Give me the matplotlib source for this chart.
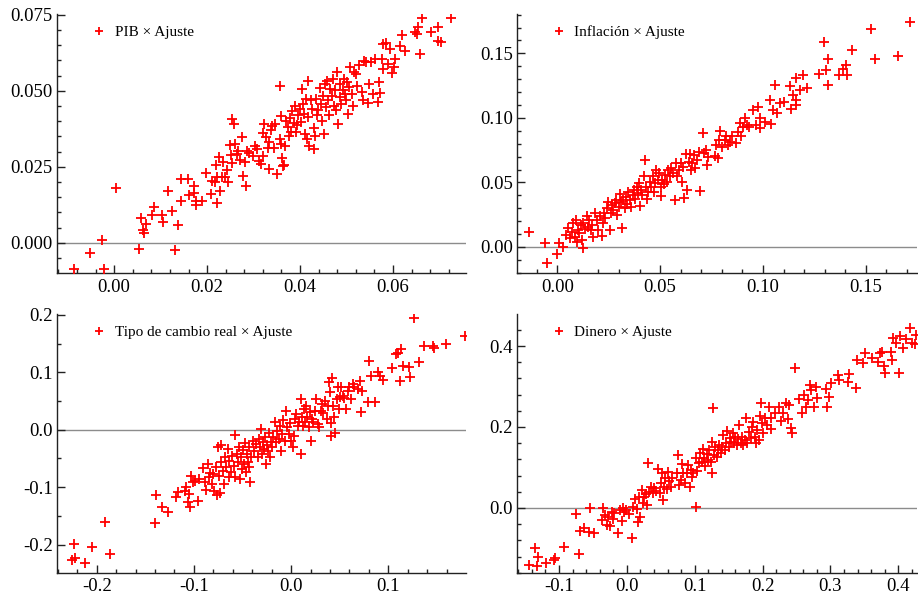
import numpy as np
import matplotlib
matplotlib.use("Agg")
import matplotlib.pyplot as plt
from matplotlib.ticker import MultipleLocator, FormatStrFormatter

plt.rcParams['font.family'] = ['Liberation Serif', 'DejaVu Serif']
plt.rcParams['axes.unicode_minus'] = False

# PIB: actual vs fitted
pib_x = [-0.0086, -0.0052, -0.0027, -0.0021, 0.0003, 0.0054, 0.0057, 0.0063, 0.0065, 0.0068,
         0.0081, 0.0085, 0.0103, 0.0104, 0.0116, 0.0125, 0.0130, 0.0137, 0.0143, 0.0143,
         0.0158, 0.0160, 0.0171, 0.0172, 0.0176, 0.0176, 0.0188, 0.0198, 0.0209, 0.0211,
         0.0217, 0.0219, 0.0222, 0.0222, 0.0225, 0.0228, 0.0232, 0.0235, 0.0239, 0.0243,
         0.0246, 0.0249, 0.0252, 0.0254, 0.0257, 0.0254, 0.0260, 0.0264, 0.0267, 0.0271,
         0.0275, 0.0277, 0.0282, 0.0283, 0.0285, 0.0291, 0.0298, 0.0302, 0.0307, 0.0311,
         0.0316, 0.0320, 0.0321, 0.0323, 0.0326, 0.0331, 0.0333, 0.0334, 0.0338, 0.0340,
         0.0344, 0.0347, 0.0351, 0.0356, 0.0357, 0.0358, 0.0360, 0.0361, 0.0363, 0.0366,
         0.0368, 0.0370, 0.0373, 0.0376, 0.0378, 0.0381, 0.0383, 0.0386, 0.0389, 0.0391,
         0.0394, 0.0396, 0.0399, 0.0402, 0.0404, 0.0406, 0.0408, 0.0411, 0.0413, 0.0414,
         0.0416, 0.0418, 0.0420, 0.0423, 0.0425, 0.0429, 0.0431, 0.0432, 0.0434, 0.0436,
         0.0438, 0.0442, 0.0444, 0.0447, 0.0449, 0.0452, 0.0454, 0.0456, 0.0458, 0.0461,
         0.0463, 0.0465, 0.0468, 0.0470, 0.0473, 0.0475, 0.0477, 0.0480, 0.0482, 0.0485,
         0.0486, 0.0489, 0.0492, 0.0494, 0.0497, 0.0499, 0.0501, 0.0504, 0.0506, 0.0508,
         0.0511, 0.0513, 0.0516, 0.0520, 0.0523, 0.0527, 0.0533, 0.0536, 0.0538, 0.0542,
         0.0546, 0.0549, 0.0552, 0.0556, 0.0561, 0.0567, 0.0570, 0.0572, 0.0576, 0.0579,
         0.0578, 0.0585, 0.0589, 0.0594, 0.0598, 0.0602, 0.0604, 0.0615, 0.0619, 0.0626,
         0.0647, 0.0651, 0.0654, 0.0659, 0.0663, 0.0682, 0.0696, 0.0696, 0.0704, 0.0724]
pib_y = [-0.0087, -0.0033, 0.0009, -0.0087, 0.0180, -0.0021, 0.0083, 0.0042, 0.0034, 0.0063,
         0.0093, 0.0118, 0.0093, 0.0068, 0.0171, 0.0105, -0.0022, 0.0058, 0.0209, 0.0136,
         0.0209, 0.0156, 0.0186, 0.0164, 0.0136, 0.0125, 0.0136, 0.0231, 0.0162, 0.0204,
         0.0200, 0.0255, 0.0130, 0.0216, 0.0281, 0.0172, 0.0216, 0.0267, 0.0216, 0.0238,
         0.0200, 0.0322, 0.0290, 0.0406, 0.0389, 0.0262, 0.0324, 0.0293, 0.0301, 0.0273,
         0.0348, 0.0220, 0.0265, 0.0186, 0.0301, 0.0295, 0.0287, 0.0318, 0.0307, 0.0269,
         0.0260, 0.0284, 0.0361, 0.0391, 0.0347, 0.0312, 0.0333, 0.0242, 0.0370, 0.0384,
         0.0313, 0.0391, 0.0226, 0.0514, 0.0342, 0.0416, 0.0326, 0.0278, 0.0251, 0.0255,
         0.0318, 0.0400, 0.0380, 0.0350, 0.0411, 0.0364, 0.0433, 0.0394, 0.0450, 0.0364,
         0.0386, 0.0419, 0.0441, 0.0397, 0.0506, 0.0457, 0.0424, 0.0359, 0.0473, 0.0342,
         0.0533, 0.0413, 0.0318, 0.0468, 0.0441, 0.0309, 0.0378, 0.0350, 0.0472, 0.0419,
         0.0435, 0.0509, 0.0457, 0.0402, 0.0484, 0.0359, 0.0523, 0.0446, 0.0533, 0.0468,
         0.0419, 0.0506, 0.0484, 0.0539, 0.0451, 0.0501, 0.0435, 0.0561, 0.0389, 0.0479,
         0.0523, 0.0457, 0.0501, 0.0539, 0.0490, 0.0468, 0.0528, 0.0424, 0.0512, 0.0577,
         0.0490, 0.0451, 0.0561, 0.0555, 0.0517, 0.0583, 0.0495, 0.0470, 0.0599, 0.0594,
         0.0459, 0.0523, 0.0594, 0.0488, 0.0605, 0.0462, 0.0528, 0.0492, 0.0605, 0.0572,
         0.0654, 0.0656, 0.0588, 0.0637, 0.0557, 0.0579, 0.0605, 0.0648, 0.0682, 0.0632,
         0.0694, 0.0686, 0.0711, 0.0621, 0.0739, 0.0692, 0.0708, 0.0662, 0.0659, 0.0739]

# Inflacion: actual vs fitted
inf_x = [-0.0136, -0.0060, -0.0049, -0.0003, 0.0010, 0.0029, 0.0042, 0.0053, 0.0061, 0.0070,
         0.0078, 0.0086, 0.0091, 0.0094, 0.0102, 0.0107, 0.0113, 0.0118, 0.0123, 0.0126,
         0.0134, 0.0142, 0.0147, 0.0155, 0.0162, 0.0168, 0.0175, 0.0183, 0.0191, 0.0199,
         0.0207, 0.0215, 0.0220, 0.0227, 0.0233, 0.0240, 0.0248, 0.0256, 0.0259, 0.0265,
         0.0272, 0.0278, 0.0285, 0.0291, 0.0298, 0.0304, 0.0311, 0.0316, 0.0320, 0.0327,
         0.0333, 0.0340, 0.0346, 0.0353, 0.0359, 0.0366, 0.0372, 0.0379, 0.0385, 0.0392,
         0.0398, 0.0401, 0.0408, 0.0414, 0.0421, 0.0427, 0.0430, 0.0437, 0.0443, 0.0450,
         0.0456, 0.0463, 0.0469, 0.0476, 0.0482, 0.0489, 0.0495, 0.0502, 0.0505, 0.0511,
         0.0518, 0.0524, 0.0531, 0.0539, 0.0547, 0.0555, 0.0563, 0.0571, 0.0576, 0.0583,
         0.0592, 0.0599, 0.0605, 0.0612, 0.0618, 0.0625, 0.0631, 0.0638, 0.0644, 0.0650,
         0.0657, 0.0663, 0.0670, 0.0680, 0.0689, 0.0696, 0.0706, 0.0712, 0.0722, 0.0728,
         0.0733, 0.0765, 0.0773, 0.0782, 0.0786, 0.0793, 0.0803, 0.0814, 0.0822, 0.0830,
         0.0841, 0.0851, 0.0867, 0.0879, 0.0887, 0.0895, 0.0903, 0.0913, 0.0922, 0.0932,
         0.0951, 0.0964, 0.0976, 0.0984, 0.0984, 0.1008, 0.1032, 0.1040, 0.1049, 0.1057,
         0.1068, 0.1081, 0.1100, 0.1133, 0.1137, 0.1146, 0.1159, 0.1162, 0.1159, 0.1178,
         0.1194, 0.1214, 0.1272, 0.1296, 0.1307, 0.1314, 0.1314, 0.1369, 0.1388, 0.1405,
         0.1408, 0.1434, 0.1526, 0.1545, 0.1657, 0.1714]
inf_y = [0.0112, 0.0028, -0.0126, -0.0056, 0.0028, 0.0002, 0.0094, 0.0144, 0.0068, 0.0112,
         0.0184, 0.0080, 0.0210, 0.0042, 0.0132, 0.0106, 0.0170, 0.0054, -0.0006, 0.0188,
         0.0136, 0.0236, 0.0158, 0.0210, 0.0132, 0.0170, 0.0080, 0.0260, 0.0210, 0.0132,
         0.0236, 0.0086, 0.0184, 0.0266, 0.0222, 0.0300, 0.0346, 0.0132, 0.0260, 0.0326,
         0.0286, 0.0338, 0.0364, 0.0248, 0.0312, 0.0408, 0.0352, 0.0144, 0.0364, 0.0300,
         0.0390, 0.0334, 0.0428, 0.0364, 0.0312, 0.0404, 0.0442, 0.0370, 0.0468, 0.0416,
         0.0498, 0.0320, 0.0442, 0.0404, 0.0546, 0.0674, 0.0468, 0.0370, 0.0428, 0.0506,
         0.0468, 0.0546, 0.0428, 0.0494, 0.0596, 0.0520, 0.0572, 0.0468, 0.0396, 0.0520,
         0.0488, 0.0558, 0.0506, 0.0596, 0.0546, 0.0610, 0.0572, 0.0364, 0.0648, 0.0546,
         0.0596, 0.0648, 0.0506, 0.0622, 0.0378, 0.0720, 0.0442, 0.0662, 0.0720, 0.0596,
         0.0648, 0.0714, 0.0610, 0.0674, 0.0732, 0.0436, 0.0886, 0.0726, 0.0752, 0.0636,
         0.0696, 0.0706, 0.0790, 0.0688, 0.0830, 0.0902, 0.0778, 0.0830, 0.0856, 0.0790,
         0.0816, 0.0856, 0.0804, 0.0894, 0.0958, 0.0856, 0.0932, 0.0998, 0.0946, 0.0932,
         0.1062, 0.0946, 0.1088, 0.0998, 0.0920, 0.0972, 0.1140, 0.0954, 0.1062, 0.1256,
         0.1036, 0.1114, 0.1126, 0.1248, 0.1068, 0.1178, 0.1140, 0.1100, 0.1312, 0.1218,
         0.1334, 0.1230, 0.1342, 0.1592, 0.1372, 0.1454, 0.1256, 0.1334, 0.1378, 0.1410,
         0.1334, 0.1528, 0.1688, 0.1458, 0.1480, 0.1740]

# Tipo de cambio real: actual vs fitted
tcr_x = [-0.2236, -0.2250, -0.2226, -0.2123, -0.2045, -0.1914, -0.1860, -0.1404, -0.1394, -0.1329,
         -0.1271, -0.1188, -0.1164, -0.1096, -0.1079, -0.1062, -0.1051, -0.1045, -0.1027, -0.1010,
         -0.0993, -0.0959, -0.0949, -0.0908, -0.0890, -0.0873, -0.0856, -0.0846, -0.0832, -0.0818,
         -0.0805, -0.0788, -0.0771, -0.0764, -0.0753, -0.0743, -0.0736, -0.0723, -0.0716, -0.0702,
         -0.0695, -0.0682, -0.0668, -0.0654, -0.0640, -0.0634, -0.0620, -0.0606, -0.0592, -0.0579,
         -0.0572, -0.0558, -0.0548, -0.0538, -0.0524, -0.0514, -0.0503, -0.0497, -0.0486, -0.0476,
         -0.0462, -0.0455, -0.0445, -0.0435, -0.0428, -0.0421, -0.0411, -0.0394, -0.0377, -0.0360,
         -0.0342, -0.0332, -0.0318, -0.0308, -0.0298, -0.0291, -0.0281, -0.0271, -0.0257, -0.0247,
         -0.0236, -0.0229, -0.0216, -0.0205, -0.0195, -0.0182, -0.0168, -0.0154, -0.0140, -0.0127,
         -0.0113, -0.0103, -0.0092, -0.0079, -0.0065, -0.0051, -0.0038, -0.0024, -0.0010, 0.0003,
         0.0017, 0.0031, 0.0041, 0.0051, 0.0068, 0.0086, 0.0099, 0.0103, 0.0113, 0.0127,
         0.0137, 0.0147, 0.0158, 0.0168, 0.0182, 0.0195, 0.0205, 0.0216, 0.0229, 0.0243,
         0.0257, 0.0274, 0.0291, 0.0308, 0.0318, 0.0332, 0.0353, 0.0366, 0.0380, 0.0394,
         0.0401, 0.0407, 0.0414, 0.0421, 0.0428, 0.0445, 0.0455, 0.0469, 0.0479, 0.0489,
         0.0503, 0.0517, 0.0531, 0.0548, 0.0565, 0.0582, 0.0599, 0.0616, 0.0634, 0.0651,
         0.0685, 0.0709, 0.0719, 0.0729, 0.0788, 0.0805, 0.0822, 0.0866, 0.0890, 0.0914,
         0.0942, 0.1038, 0.1079, 0.1096, 0.1130, 0.1120, 0.1154, 0.1209, 0.1223, 0.1267,
         0.1318, 0.1370, 0.1462, 0.1473, 0.1592, 0.1788]
tcr_y = [-0.1988, -0.2267, -0.2232, -0.2325, -0.2035, -0.1600, -0.2162, -0.1629, -0.1130, -0.1339,
         -0.1426, -0.1177, -0.1078, -0.1061, -0.1003, -0.1264, -0.1119, -0.1351, -0.0800, -0.0916,
         -0.0899, -0.1246, -0.0858, -0.0667, -0.0916, -0.1049, -0.0597, -0.0829, -0.0759, -0.0945,
         -0.0771, -0.1061, -0.0655, -0.1130, -0.0307, -0.0800, -0.1107, -0.0261, -0.0568, -0.0713,
         -0.0945, -0.0481, -0.0655, -0.0336, -0.0829, -0.0539, -0.0742, -0.0452, -0.0626, -0.0093,
         -0.0829, -0.0423, -0.0568, -0.0307, -0.0858, -0.0481, -0.0684, -0.0354, -0.0597, -0.0238,
         -0.0742, -0.0423, -0.0568, -0.0307, -0.0655, -0.0916, -0.0481, -0.0191, -0.0365, -0.0249,
         -0.0481, -0.0162, -0.0307, 0.0012, -0.0423, -0.0220, -0.0336, -0.0133, -0.0597, -0.0261,
         -0.0365, -0.0064, -0.0481, -0.0220, -0.0307, -0.0133, 0.0128, -0.0220, -0.0017, -0.0162,
         0.0070, -0.0377, -0.0075, 0.0168, -0.0191, 0.0330, 0.0041, -0.0075, 0.0110, -0.0203,
         -0.0307, -0.0104, 0.0186, 0.0272, 0.0070, 0.0128, 0.0533, -0.0423, 0.0214, 0.0070,
         0.0359, 0.0128, 0.0417, 0.0214, 0.0041, 0.0301, -0.0203, 0.0186, 0.0128, 0.0330,
         0.0533, 0.0099, 0.0041, 0.0330, 0.0446, 0.0284, 0.0504, 0.0186, 0.0417, 0.0823,
         0.0649, -0.0104, 0.0110, 0.0899, 0.0417, 0.0226, -0.0064, 0.0533, 0.0736, 0.0359,
         0.0574, 0.0736, 0.0591, 0.0551, 0.0359, 0.0678, 0.0736, 0.0533, 0.0794, 0.0748,
         0.0707, 0.0852, 0.0301, 0.0678, 0.0475, 0.1200, 0.0939, 0.0475, 0.0997, 0.0939,
         0.0864, 0.1072, 0.1316, 0.1328, 0.1403, 0.0841, 0.1113, 0.1096, 0.0922, 0.1954,
         0.1171, 0.1461, 0.1461, 0.1420, 0.1501, 0.1635]

# Dinero: actual vs fitted
din_x = [-0.1436, -0.1324, -0.1348, -0.1309, -0.1186, -0.1078, -0.1064, -0.0931, -0.0745, -0.0701,
         -0.0686, -0.0627, -0.0564, -0.0539, -0.0490, -0.0368, -0.0353, -0.0319, -0.0294, -0.0270,
         -0.0245, -0.0221, -0.0206, -0.0186, -0.0123, -0.0098, -0.0074, -0.0059, -0.0039, -0.0010,
         0.0025, 0.0074, 0.0098, 0.0123, 0.0147, 0.0172, 0.0186, 0.0196, 0.0221, 0.0235,
         0.0255, 0.0284, 0.0304, 0.0319, 0.0333, 0.0353, 0.0382, 0.0402, 0.0431, 0.0466,
         0.0490, 0.0505, 0.0520, 0.0529, 0.0549, 0.0564, 0.0588, 0.0613, 0.0627, 0.0647,
         0.0667, 0.0735, 0.0760, 0.0775, 0.0794, 0.0814, 0.0833, 0.0858, 0.0882, 0.0907,
         0.0931, 0.0941, 0.0956, 0.0980, 0.1025, 0.1020, 0.1039, 0.1059, 0.1078, 0.1103,
         0.1118, 0.1137, 0.1157, 0.1176, 0.1196, 0.1216, 0.1235, 0.1250, 0.1260, 0.1275,
         0.1289, 0.1304, 0.1324, 0.1343, 0.1363, 0.1382, 0.1402, 0.1422, 0.1441, 0.1461,
         0.1480, 0.1500, 0.1520, 0.1539, 0.1559, 0.1578, 0.1598, 0.1618, 0.1637, 0.1657,
         0.1676, 0.1696, 0.1716, 0.1740, 0.1755, 0.1775, 0.1804, 0.1824, 0.1843, 0.1863,
         0.1882, 0.1902, 0.1922, 0.1941, 0.1961, 0.1980, 0.1990, 0.2010, 0.2029, 0.2059,
         0.2098, 0.2118, 0.2132, 0.2181, 0.2245, 0.2265, 0.2304, 0.2343, 0.2377, 0.2392,
         0.2426, 0.2436, 0.2475, 0.2539, 0.2588, 0.2608, 0.2647, 0.2672, 0.2706, 0.2721,
         0.2755, 0.2784, 0.2804, 0.2941, 0.2956, 0.2980, 0.3015, 0.3113, 0.3127, 0.3260,
         0.3275, 0.3382, 0.3392, 0.3480, 0.3505, 0.3618, 0.3701, 0.3735, 0.3765, 0.3784,
         0.3799, 0.3897, 0.3912, 0.3922, 0.3961, 0.4010, 0.4029, 0.4069, 0.4118, 0.4176,
         0.4206, 0.4240, 0.4255]
din_y = [-0.1416, -0.1432, -0.0979, -0.1202, -0.1366, -0.1284, -0.1243, -0.0955, -0.0148, -0.1144,
         -0.0560, -0.0502, -0.0584, -0.0008, -0.0609, -0.0296, -0.0008, -0.0173, -0.0420, -0.0214,
         -0.0444, -0.0091, -0.0280, -0.0132, -0.0609, -0.0049, -0.0313, -0.0008, -0.0091, -0.0049,
         -0.0148, -0.0749, 0.0033, 0.0214, -0.0033, -0.0337, 0.0280, -0.0214, 0.0444, 0.0115,
         0.0263, 0.0346, 0.0074, 0.1103, 0.0403, 0.0510, 0.0362, 0.0486, 0.0428, 0.0955,
         0.0379, 0.0626, 0.0872, 0.0198, 0.0527, 0.0733, 0.0461, 0.0897, 0.0675, 0.0527,
         0.0733, 0.0872, 0.1309, 0.0568, 0.0691, 0.1086, 0.0872, 0.0609, 0.0856, 0.1062,
         0.0510, 0.0938, 0.0757, 0.0872, 0.0033, 0.1226, 0.0922, 0.1103, 0.1350, 0.1144,
         0.1449, 0.1226, 0.1037, 0.1333, 0.1185, 0.1432, 0.1144, 0.1638, 0.0856, 0.2461,
         0.1309, 0.1514, 0.1267, 0.1432, 0.1556, 0.1350, 0.1514, 0.1802, 0.1432, 0.1597,
         0.1909, 0.1514, 0.1720, 0.1638, 0.1844, 0.1597, 0.1761, 0.1556, 0.1695, 0.2049,
         0.1613, 0.1761, 0.1556, 0.1679, 0.2214, 0.1597, 0.1885, 0.1720, 0.2008, 0.2132,
         0.1761, 0.1597, 0.1926, 0.1679, 0.2272, 0.2584, 0.2107, 0.1844, 0.2214, 0.2049,
         0.2502, 0.2214, 0.1942, 0.2354, 0.2502, 0.2156, 0.2337, 0.2584, 0.2189, 0.2543,
         0.1967, 0.1844, 0.3449, 0.2683, 0.2354, 0.2790, 0.2502, 0.2667, 0.3037, 0.2914,
         0.2502, 0.2996, 0.2708, 0.2930, 0.2502, 0.2749, 0.3095, 0.3284, 0.3160, 0.3119,
         0.3309, 0.2955, 0.3654, 0.3588, 0.3819, 0.3695, 0.3613, 0.3819, 0.3860, 0.3506,
         0.3342, 0.3860, 0.3654, 0.4189, 0.4082, 0.3342, 0.4247, 0.3942, 0.4165, 0.4436,
         0.4082, 0.4049, 0.4272]

labels = ['PIB × Ajuste', 'Inflación × Ajuste', 'Tipo de cambio real × Ajuste', 'Dinero × Ajuste']

fig = plt.figure(figsize=(9.18, 5.97), dpi=100)

# [left, bottom, width, height] in figure fraction
rects = [[0.0621, 0.5427, 0.4455, 0.4338],
         [0.5632, 0.5427, 0.4360, 0.4338],
         [0.0621, 0.0407, 0.4455, 0.4333],
         [0.5632, 0.0407, 0.4360, 0.4333]]
xlims = [(-0.0123, 0.0757), (-0.0196, 0.175), (-0.2408, 0.1799), (-0.1618, 0.428)]
ylims = [(-0.0099, 0.0752), (-0.0202, 0.1805), (-0.249, 0.2015), (-0.16, 0.479)]
xmaj = [0.02, 0.05, 0.1, 0.1]
xmin = [0.004, 0.01, 0.02, 0.02]
ymaj = [0.025, 0.05, 0.1, 0.2]
ymin = [0.005, 0.01, 0.05, 0.04]
xfmt = ['%.2f', '%.2f', '%.1f', '%.1f']
yfmt = ['%.3f', '%.2f', '%.1f', '%.1f']
data = [(pib_x, pib_y), (inf_x, inf_y), (tcr_x, tcr_y), (din_x, din_y)]

for i in range(4):
    ax = fig.add_axes(rects[i])
    xs, ys = data[i]
    ax.axhline(0, color='#8c8c8c', lw=1.0, zorder=1)
    ax.plot(xs, ys, '+', color='#ff0000', ms=6.5, mew=1.3, ls='none', label=labels[i], zorder=3)
    ax.set_xlim(*xlims[i])
    ax.set_ylim(*ylims[i])
    ax.xaxis.set_major_locator(MultipleLocator(xmaj[i]))
    ax.xaxis.set_minor_locator(MultipleLocator(xmin[i]))
    ax.yaxis.set_major_locator(MultipleLocator(ymaj[i]))
    ax.yaxis.set_minor_locator(MultipleLocator(ymin[i]))
    ax.xaxis.set_major_formatter(FormatStrFormatter(xfmt[i]))
    ax.yaxis.set_major_formatter(FormatStrFormatter(yfmt[i]))
    ax.spines['top'].set_visible(False)
    ax.spines['right'].set_visible(False)
    for s in ['left', 'bottom']:
        ax.spines[s].set_color('#222222')
        ax.spines[s].set_linewidth(1.0)
    ax.tick_params(which='both', direction='in', top=False, right=False, color='#222222')
    ax.tick_params(which='major', length=5.5, width=1.0, labelsize=13.5, pad=3)
    ax.tick_params(which='minor', length=3, width=1.0)
    ax.tick_params(axis='x', which='major', pad=4)
    ax.legend(loc='upper left', bbox_to_anchor=(0.07, 0.985), frameon=False, fontsize=11,
              handlelength=0.8, handletextpad=0.6, borderpad=0, markerscale=0.8)

plt.savefig('out.png', dpi=100)
